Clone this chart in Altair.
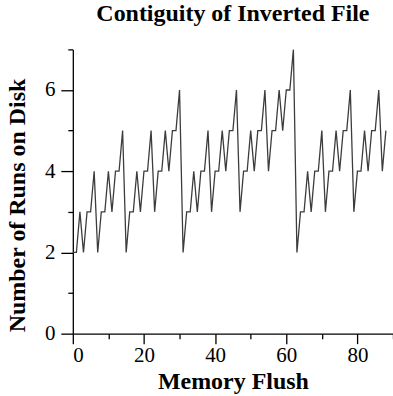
import altair as alt
import pandas as pd

flush = list(range(0, 89))
runs = [2, 2, 3, 2, 3, 3, 4, 2, 3, 3, 4, 3, 4, 4, 5, 2,
        3, 3, 4, 3, 4, 4, 5, 3, 4, 4, 5, 4, 5, 5, 6, 2,
        3, 3, 4, 3, 4, 4, 5, 3, 4, 4, 5, 4, 5, 5, 6, 3,
        4, 4, 5, 4, 5, 5, 6, 4, 5, 5, 6, 5, 6, 6, 7, 2,
        3, 3, 4, 3, 4, 4, 5, 3, 4, 4, 5, 4, 5, 5, 6, 3,
        4, 4, 5, 4, 5, 5, 6, 4, 5]

x_ticks = [0, 10, 20, 30, 40, 50, 60, 70, 80, 90]
y_ticks = [0, 1, 2, 3, 4, 5, 6, 7]

df = pd.DataFrame({"flush": flush, "runs": runs})

FONT = "Liberation Serif"

chart = alt.Chart(df).mark_line(color="#3c3c3c", strokeWidth=1.3, clip=True).encode(
    x=alt.X("flush:Q",
            scale=alt.Scale(domain=[0, 90], nice=False, zero=False),
            axis=alt.Axis(values=x_ticks, title="Memory Flush", grid=False,
                          labelExpr="datum.value % 20 === 0 ? datum.label : ''",
                          tickSize={"condition": {"test": "datum.value % 20 === 0", "value": 10}, "value": 5},
                          labelPadding=1, labelFontSize=21, labelFont=FONT, labelColor="black",
                          titleFont=FONT, titleFontSize=24, titleFontWeight="bold", titleColor="black",
                          titleY=55, titleBaseline="alphabetic",
                          domainColor="black", tickColor="black", domainWidth=1.3, tickWidth=1.3)),
    y=alt.Y("runs:Q",
            scale=alt.Scale(domain=[0, 7], nice=False),
            axis=alt.Axis(values=y_ticks, title="Number of Runs on Disk", grid=False,
                          labelExpr="datum.value % 2 === 0 ? datum.label : ''",
                          tickSize={"condition": {"test": "datum.value % 2 === 0", "value": 12}, "value": 5},
                          labelPadding=6, labelFontSize=21, labelFont=FONT, labelColor="black",
                          titleFont=FONT, titleFontSize=24, titleFontWeight="bold", titleColor="black",
                          titleX=-48, titleY=156, titleBaseline="alphabetic", titleAlign="center", titleAngle=270,
                          domainColor="black", tickColor="black", domainWidth=1.3, tickWidth=1.3)),
).properties(
    width=321,
    height=285,
    title=alt.TitleParams("Contiguity of Inverted File", font=FONT, fontSize=24,
                          fontWeight="bold", color="black", anchor="middle", offset=23),
    autosize=alt.AutoSizeParams(type="none"),
    padding={"left": 73, "top": 49, "right": 0, "bottom": 62},
).configure_view(stroke=None)

chart.save("out.html", embed_options={"renderer": "svg", "actions": False})
